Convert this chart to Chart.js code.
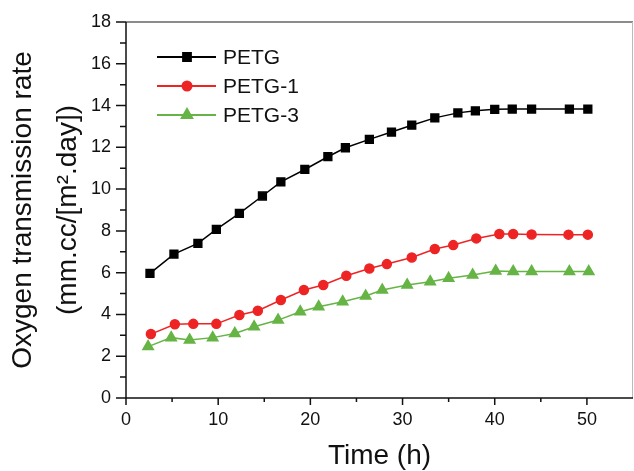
<!DOCTYPE html>
<html>
<head>
<meta charset="utf-8">
<script src="https://cdn.jsdelivr.net/npm/chart.js@4.4.1/dist/chart.umd.min.js"></script>
<style>
  html, body { margin: 0; padding: 0; background: #fff; overflow: hidden; }
  #wrap { width: 634px; height: 471px; position: relative; }
</style>
</head>
<body>
<div id="wrap"><canvas id="myChart"></canvas></div>
<script>
// values
const petgTime  = [2.6, 5.2, 7.8, 9.8, 12.3, 14.8, 16.8, 19.4, 21.9, 23.8, 26.4, 28.8, 31.0, 33.5, 36.0, 37.9, 40.0, 41.9, 44.0, 48.1, 50.1];
const petgRate  = [5.97, 6.89, 7.40, 8.07, 8.84, 9.67, 10.35, 10.94, 11.55, 11.98, 12.38, 12.73, 13.06, 13.41, 13.65, 13.75, 13.82, 13.83, 13.83, 13.83, 13.83];
const petg1Time = [2.7, 5.3, 7.3, 9.8, 12.3, 14.3, 16.8, 19.3, 21.4, 23.9, 26.4, 28.3, 31.0, 33.5, 35.5, 38.0, 40.5, 42.0, 44.0, 48.0, 50.1];
const petg1Rate = [3.06, 3.53, 3.55, 3.55, 3.97, 4.18, 4.69, 5.17, 5.41, 5.85, 6.20, 6.41, 6.73, 7.13, 7.32, 7.64, 7.85, 7.85, 7.83, 7.82, 7.82];
const petg3Time = [2.4, 4.9, 6.9, 9.4, 11.8, 13.9, 16.5, 18.9, 20.9, 23.5, 26.0, 27.8, 30.5, 33.0, 35.0, 37.6, 40.1, 42.0, 44.0, 48.1, 50.2];
const petg3Rate = [2.46, 2.89, 2.78, 2.89, 3.09, 3.41, 3.73, 4.13, 4.37, 4.61, 4.88, 5.17, 5.41, 5.57, 5.73, 5.89, 6.08, 6.06, 6.06, 6.05, 6.05];

const xMax = 55;
const yMax = 18;
const FONT = '"Liberation Sans", Arial, sans-serif';

function toPoints(xs, ys) {
    return xs.map((x, i) => ({ x: x, y: ys[i] }));
}

// box around the plot + major/minor tick marks (outside)
const frameTicks = {
    id: 'frameTicks',
    afterDraw(chart) {
        const { ctx, chartArea: a, scales } = chart;
        ctx.save();
        ctx.lineWidth = 1.5;
        ctx.strokeStyle = '#666';
        ctx.beginPath();
        ctx.moveTo(a.left, a.top);
        ctx.lineTo(a.right, a.top);
        ctx.stroke();
        ctx.strokeStyle = '#bbb';
        ctx.lineWidth = 1;
        ctx.beginPath();
        ctx.moveTo(a.right - 0.5, a.top);
        ctx.lineTo(a.right - 0.5, a.bottom);
        ctx.stroke();

        ctx.strokeStyle = '#111';
        ctx.lineWidth = 1.5;
        ctx.beginPath();
        ctx.moveTo(a.left, a.top);
        ctx.lineTo(a.left, a.bottom);
        ctx.lineTo(a.right, a.bottom);
        ctx.stroke();

        ctx.beginPath();
        scales.x.ticks.forEach(t => {
            if (t.value >= xMax) return;
            const px = scales.x.getPixelForValue(t.value);
            const len = t.value % 10 === 0 ? 7 : 4;
            ctx.moveTo(px, a.bottom);
            ctx.lineTo(px, a.bottom + len);
        });
        scales.y.ticks.forEach(t => {
            const py = scales.y.getPixelForValue(t.value);
            const len = t.value % 2 === 0 ? 10 : 6;
            ctx.moveTo(a.left, py);
            ctx.lineTo(a.left - len, py);
        });
        ctx.stroke();
        ctx.restore();
    }
};

// legend drawn inside the plot, line + marker + label
const insideLegend = {
    id: 'insideLegend',
    afterDatasetsDraw(chart) {
        const { ctx } = chart;
        ctx.save();
        chart.data.datasets.forEach((ds, i) => {
            const y = 57 + i * 29;
            ctx.strokeStyle = ds.borderColor;
            ctx.lineWidth = 2;
            ctx.beginPath();
            ctx.moveTo(157, y);
            ctx.lineTo(216, y);
            ctx.stroke();
            ctx.fillStyle = ds.pointBackgroundColor;
            ctx.strokeStyle = ds.borderColor;
            Chart.helpers.drawPoint(ctx, {
                pointStyle: ds.pointStyle,
                radius: ds.pointRadius,
                rotation: 0,
                borderWidth: 1
            }, 187, y);
            ctx.fillStyle = '#111';
            ctx.font = '21px ' + FONT;
            ctx.textBaseline = 'middle';
            ctx.textAlign = 'left';
            ctx.fillText(ds.label, 223, y + 1);
        });
        ctx.restore();
    }
};

document.addEventListener('DOMContentLoaded', function () {
    const ctx = document.getElementById('myChart');
    new Chart(ctx, {
        type: 'line',
        data: {
            datasets: [{
                label: 'PETG',
                data: toPoints(petgTime, petgRate),
                borderColor: '#000',
                pointBackgroundColor: '#000',
                pointBorderColor: '#000',
                pointStyle: 'rect',
                pointRadius: 5.5,
                borderWidth: 1.5
            }, {
                label: 'PETG-1',
                data: toPoints(petg1Time, petg1Rate),
                borderColor: '#ee2424',
                pointBackgroundColor: '#ee2424',
                pointBorderColor: '#ee2424',
                pointStyle: 'circle',
                pointRadius: 4.5,
                borderWidth: 1.5
            }, {
                label: 'PETG-3',
                data: toPoints(petg3Time, petg3Rate),
                borderColor: '#66b445',
                pointBackgroundColor: '#66b445',
                pointBorderColor: '#66b445',
                pointStyle: 'triangle',
                pointRadius: 6,
                borderWidth: 1.5
            }]
        },
        options: {
            responsive: true,
            maintainAspectRatio: false,
            animation: false,
            // no auto padding for point overflow, plot box runs to the right edge
            layout: { autoPadding: false, padding: { left: 0, top: 22, right: 1, bottom: 0 } },
            plugins: {
                legend: { display: false },
                tooltip: { enabled: false }
            },
            scales: {
                x: {
                    type: 'linear',
                    min: 0,
                    max: xMax,
                    grid: { display: false, drawTicks: false },
                    border: { display: false },
                    ticks: {
                        stepSize: 5,
                        autoSkip: false,
                        maxRotation: 0,
                        padding: 0,
                        color: '#111',
                        // tall line box pushes the labels down
                        font: { family: FONT, size: 18, lineHeight: 2.4 },
                        callback: v => (v % 10 === 0 && v <= 50) ? v : ''
                    },
                    title: {
                        display: true,
                        text: 'Time (h)',
                        color: '#111',
                        padding: { top: 0, bottom: -2 },
                        font: { family: FONT, size: 28 }
                    },
                    afterFit: s => {
                        s.height = 73;
                        s.paddingLeft = 0;
                        s.paddingRight = 0;
                    }
                },
                y: {
                    min: 0,
                    max: yMax,
                    grid: { display: false, drawTicks: false },
                    border: { display: false },
                    ticks: {
                        stepSize: 1,
                        autoSkip: false,
                        padding: 15,
                        color: '#111',
                        font: { family: FONT, size: 18 },
                        callback: v => v % 2 === 0 ? v : ''
                    },
                    title: {
                        display: true,
                        text: ['Oxygen transmission rate', '(mm.cc/[m\u00B2.day])'],
                        color: '#111',
                        padding: { top: 1, bottom: 0 },
                        font: { family: FONT, size: 28, lineHeight: 1.6 }
                    },
                    afterFit: s => {
                        s.width = 126;
                        s.paddingTop = 0;
                        s.paddingBottom = 0;
                    }
                }
            }
        },
        plugins: [frameTicks, insideLegend]
    });
});
</script>
</body>
</html>
